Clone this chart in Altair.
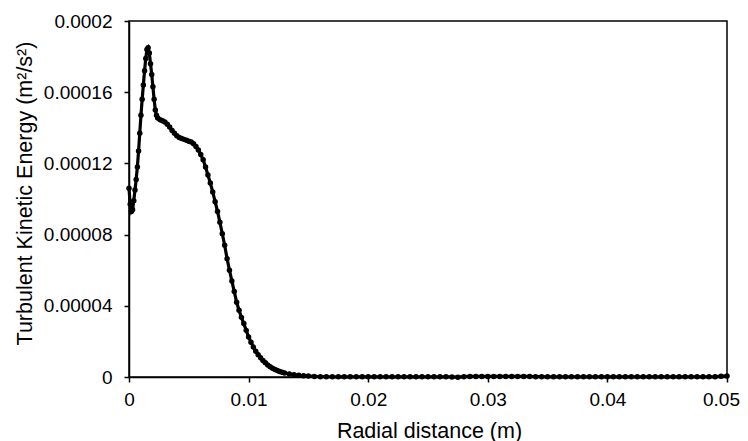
import altair as alt
import pandas as pd

# Radial distance (m)
x_head = [0.0000, 0.0001, 0.0002, 0.0003, 0.0004, 0.0005, 0.0006, 0.0007, 0.0008, 0.0009,
          0.0010, 0.0011, 0.0012, 0.0013, 0.0014, 0.0015, 0.0016, 0.0017, 0.0018, 0.0019,
          0.0020, 0.0021, 0.0022, 0.0023, 0.0024, 0.0026, 0.0028, 0.0030, 0.0032, 0.0034,
          0.0036, 0.0038, 0.0040, 0.0042, 0.0044, 0.0046, 0.0048, 0.0050, 0.0052, 0.0054,
          0.0056, 0.0058, 0.0060, 0.0062, 0.0064, 0.0066, 0.0068, 0.0070, 0.0072, 0.0074,
          0.0076, 0.0078, 0.0080, 0.0082, 0.0084, 0.0086, 0.0088, 0.0090, 0.0092, 0.0094,
          0.0096, 0.0098, 0.0100, 0.0102, 0.0104, 0.0106, 0.0108, 0.0110, 0.0112, 0.0114,
          0.0116, 0.0118, 0.0120, 0.0122, 0.0124, 0.0126, 0.0128, 0.0130, 0.0134, 0.0138,
          0.0142, 0.0146, 0.0150, 0.0155, 0.0160]
# Turbulent kinetic energy (m2/s2)
k_head = [0.000106, 0.000097, 0.000093, 0.000094, 0.000099, 0.000105, 0.000111, 0.000118, 0.000127, 0.000137,
          0.000147, 0.000156, 0.000164, 0.000172, 0.000179, 0.000184, 0.000185, 0.000182, 0.000176, 0.000170,
          0.000163, 0.000156, 0.000150, 0.000147, 0.0001455, 0.0001445, 0.000144, 0.0001432, 0.000142, 0.0001405,
          0.0001385, 0.000137, 0.0001355, 0.0001345, 0.000134, 0.0001335, 0.000133, 0.0001325, 0.000132, 0.000131,
          0.0001295, 0.0001275, 0.000125, 0.000122, 0.000118, 0.0001135, 0.000109, 0.000104, 0.0000985, 0.000093,
          0.000087, 0.0000805, 0.000074, 0.0000665, 0.000060, 0.000054, 0.000048, 0.000042, 0.0000375, 0.0000335,
          0.000030, 0.0000262, 0.0000225, 0.0000195, 0.0000168, 0.0000145, 0.0000125, 0.0000108, 0.0000093, 0.000008,
          0.0000068, 0.0000058, 0.0000049, 0.0000042, 0.0000036, 0.0000031, 0.0000027, 0.0000023, 0.0000017, 0.0000013,
          0.000001, 0.0000007, 0.0000005, 0.0000003, 0.0000002]

x_tail = [0.0165, 0.0170, 0.0175, 0.0180, 0.0185, 0.0190, 0.0195, 0.0200, 0.0205, 0.0210,
          0.0215, 0.0220, 0.0225, 0.0230, 0.0235, 0.0240, 0.0245, 0.0250, 0.0255, 0.0260,
          0.0265, 0.0270, 0.0275, 0.0280, 0.0285, 0.0290, 0.0295, 0.0300, 0.0305, 0.0310,
          0.0315, 0.0320, 0.0325, 0.0330, 0.0335, 0.0340, 0.0345, 0.0350, 0.0355, 0.0360,
          0.0365, 0.0370, 0.0375, 0.0380, 0.0385, 0.0390, 0.0395, 0.0400, 0.0405, 0.0410,
          0.0415, 0.0420, 0.0425, 0.0430, 0.0435, 0.0440, 0.0445, 0.0450, 0.0455, 0.0460,
          0.0465, 0.0470, 0.0475, 0.0480, 0.0485, 0.0490, 0.0495, 0.0500]
k_tail = [0.00000015, 0.00000012, 0.0000001, 0.0000001, 0.0000001, 0.0000001, 0.0000001, 0.0000001, 0.0000001, 0.0000001,
          0.0000001, 0.0000001, 0.0000001, 0.0000001, 0.0000001, 0.0000001, 0.0000001, 0.0000001, 0.0000001, 0.0000001,
          0.0000001, 0.00000005, -0.0000001, 0.0000002, 0.0000003, 0.0000003, 0.0000003, 0.0000003, 0.0000003, 0.0000003,
          0.0000003, 0.0000003, 0.0000003, 0.0000003, 0.0000003, 0.0000002, 0.0000002, 0.0000001, 0.0000001, 0.0000001,
          0.0000001, 0.0000001, 0.0000001, 0.0000001, 0.0000001, 0.0000001, 0.0000001, 0.0000001, 0.0000001, 0.0000001,
          0.0000001, 0.0000001, 0.0000001, 0.0000001, 0.0000001, 0.0000001, 0.0000001, 0.0000001, 0.0000001, 0.0000001,
          0.0000001, 0.0000001, 0.0000001, 0.0000001, 0.0000001, 0.0000002, 0.0000004, 0.0000006]

x_ticks = [0, 0.01, 0.02, 0.03, 0.04, 0.05]
y_ticks = [0, 0.00004, 0.00008, 0.00012, 0.00016, 0.0002]

df = pd.DataFrame({"r": x_head + x_tail, "k": k_head + k_tail})

FONT = "Liberation Sans"

chart = alt.Chart(df).mark_line(
    color="black",
    strokeWidth=3.2,
    point=alt.OverlayMarkDef(filled=True, color="black", size=30, opacity=1),
).encode(
    x=alt.X("r:Q",
            scale=alt.Scale(domain=[0, 0.05], nice=False, zero=False),
            axis=alt.Axis(values=x_ticks, format=".2~f", title="Radial distance (m)",
                          grid=False, tickSize=5, labelPadding=8, labelFlush=False,
                          labelOffset={"condition": {"test": "datum.value >= 0.049", "value": -6}, "value": 0},
                          titleX=300, titleY=60, titleBaseline="alphabetic")),
    y=alt.Y("k:Q",
            scale=alt.Scale(domain=[0, 0.0002], nice=False, zero=False),
            axis=alt.Axis(values=y_ticks, format=".5~f", title="Turbulent  Kinetic Energy (m²/s²)",
                          grid=False, tickSize=5, labelPadding=12, labelFlush=False,
                          titleX=-98, titleY=172, titleAngle=-90, titleAlign="center",
                          titleBaseline="alphabetic")),
).properties(
    width=598,
    height=356,
    background="white",
    autosize=alt.AutoSizeParams(type="none"),
    padding={"left": 121, "top": 13, "right": 13, "bottom": 64},
).configure_view(
    stroke="black", strokeWidth=1.5
).configure_axis(
    domainColor="black", domainWidth=1.5, tickColor="black", tickWidth=1.5,
    labelFont=FONT, labelFontSize=19, labelColor="black",
    titleFont=FONT, titleFontSize=21.5, titleColor="black", titleFontWeight="normal",
)

chart.save("out.html", embed_options={"renderer": "svg", "actions": False})
